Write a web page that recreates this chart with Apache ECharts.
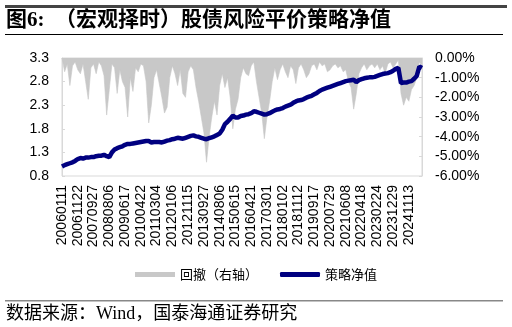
<!DOCTYPE html>
<html><head><meta charset="utf-8">
<script src="https://cdn.jsdelivr.net/npm/echarts@6/dist/echarts.min.js"></script>
<style>html,body{margin:0;padding:0;background:#fff}#c{width:512px;height:327px}</style>
</head><body><div id="c"></div>
<script>
// Tick label dates (every 6th category)
var tickDates = ['20060111','20061122','20070927','20080806','20090617','20100422','20110304','20120106','20121115','20130927','20140806','20150615','20160421','20170301','20180102','20181112','20190917','20200729','20210608','20220418','20230224','20231229','20241113'];
// Strategy net value (left axis)
var netValue = [1.00,1.03,1.05,1.07,1.09,1.12,1.16,1.18,1.17,1.19,1.19,1.20,1.20,1.22,1.23,1.23,1.25,1.22,1.20,1.30,
1.36,1.39,1.41,1.43,1.46,1.48,1.48,1.49,1.50,1.51,1.52,1.53,1.54,1.54,1.51,1.52,1.52,1.52,1.51,1.53,
1.55,1.56,1.58,1.59,1.61,1.60,1.59,1.61,1.63,1.65,1.66,1.64,1.63,1.61,1.59,1.58,1.60,1.62,1.64,1.67,
1.70,1.78,1.90,1.95,2.01,2.08,2.04,2.04,2.07,2.08,2.10,2.11,2.13,2.17,2.16,2.14,2.12,2.10,2.11,2.13,
2.16,2.19,2.21,2.22,2.24,2.27,2.29,2.31,2.35,2.38,2.40,2.41,2.43,2.46,2.48,2.50,2.53,2.56,2.60,2.63,
2.65,2.67,2.69,2.71,2.73,2.75,2.77,2.79,2.81,2.82,2.83,2.84,2.79,2.83,2.85,2.87,2.88,2.89,2.89,2.90,
2.92,2.94,2.96,2.97,2.98,3.00,3.03,3.07,3.09,2.77,2.78,2.78,2.80,2.81,2.86,2.92,3.12,3.09];
// Drawdown in % (right axis)
var drawdown = [0,-0.7,-0.3,-1.4,-0.4,-0.2,-0.6,-0.8,-0.3,-1.2,-2.1,-0.5,-0.3,-0.8,-0.2,-0.4,-0.9,-2.9,-1.6,-0.3,
-0.5,-1.8,-0.6,-1.2,-1.5,-3.0,-1.0,-1.7,-0.5,-0.7,-0.3,-0.4,-1.2,-3.3,-2.4,-1.0,-0.6,-1.3,-2.0,-2.8,
-2.5,-1.0,-0.4,-0.8,-1.4,-0.6,-1.8,-2.0,-0.7,-0.4,-0.6,-1.5,-2.2,-3.0,-3.8,-5.3,-4.0,-3.0,-2.2,-2.9,
-1.4,-0.8,-1.5,-1.0,-2.0,-3.6,-2.6,-2.1,-1.0,-0.5,-0.8,-0.9,-0.4,-0.2,-1.2,-2.0,-2.8,-4.1,-3.0,-2.2,
-1.2,-0.5,-1.1,-0.6,-0.3,-0.7,-1.0,-0.4,-0.6,-1.3,-0.5,-0.3,-0.6,-1.0,-0.8,-0.4,-0.3,-0.6,-0.2,-0.4,
-0.3,-0.7,-0.6,-0.4,-0.3,-0.5,-0.4,-0.7,-0.6,-1.2,-1.5,-2.6,-1.8,-0.8,-0.5,-0.3,-0.6,-0.4,-0.3,-0.5,
-0.3,-0.6,-0.4,-0.8,-0.3,-0.2,-0.5,-0.3,-0.1,-1.8,-2.4,-2.0,-2.2,-1.6,-1.4,-1.0,-0.2,-0.4];
var seriesNames = ['回撤（右轴）','策略净值'];

// Build category dates: tick dates with intermediate dates between them
function toD(s){return new Date(+s.slice(0,4), +s.slice(4,6)-1, +s.slice(6,8));}
function fmt(d){var m=d.getMonth()+1, dd=d.getDate();return ''+d.getFullYear()+(m<10?'0':'')+m+(dd<10?'0':'')+dd;}
var step = 6, categories = [];
for (var k=0;k<tickDates.length;k++){
  categories.push(tickDates[k]);
  var a = toD(tickDates[k]);
  var b = k<tickDates.length-1 ? toD(tickDates[k+1]) : new Date(a.getTime() + (a - toD(tickDates[k-1])));
  var nExtra = k<tickDates.length-1 ? step-1 : netValue.length - categories.length;
  for (var j=1;j<=nExtra;j++) categories.push(fmt(new Date(a.getTime() + (b-a)*j/step)));
}

var chart = echarts.init(document.getElementById('c'), null, {renderer:'canvas'});
var cn = "'Liberation Serif','Noto Sans CJK SC',serif";
chart.setOption({
  animation:false,
  grid:{left:62,right:90,top:58,bottom:151,show:true,borderColor:'#d9d9d9',borderWidth:1},
  legend:{
    bottom:41,left:'center',itemGap:22,itemWidth:40,itemHeight:5,
    textStyle:{fontFamily:"'Noto Sans CJK SC'",fontSize:13,color:'#000'},
    data:[{name:seriesNames[0],icon:'rect'},{name:seriesNames[1],icon:'roundRect'}]
  },
  xAxis:{type:'category',data:categories,boundaryGap:false,
    axisLine:{lineStyle:{color:'#d9d9d9'}},axisTick:{show:false},
    axisLabel:{interval:step-1,rotate:90,fontFamily:'Liberation Sans',fontSize:14,color:'#000',margin:9}},
  yAxis:[
    {type:'value',min:0.8,max:3.3,interval:0.5,position:'left',splitLine:{show:false},
     axisLine:{show:true,lineStyle:{color:'#d9d9d9'}},axisTick:{show:true,inside:true,length:3,lineStyle:{color:'#d9d9d9'}},
     axisLabel:{fontFamily:'Liberation Sans',fontSize:14,color:'#000',margin:13,formatter:function(v){return v.toFixed(1);}}},
    {type:'value',min:-6,max:0,interval:1,position:'right',splitLine:{show:false},
     axisLine:{show:true,lineStyle:{color:'#d9d9d9'}},axisTick:{show:true,inside:true,length:3,lineStyle:{color:'#d9d9d9'}},
     axisLabel:{fontFamily:'Liberation Sans',fontSize:14,color:'#000',margin:13,formatter:function(v){return v.toFixed(2)+'%';}}}
  ],
  series:[
    {name:seriesNames[0],type:'line',yAxisIndex:1,data:drawdown,showSymbol:false,
     lineStyle:{width:0.6,color:'#c8c8c8'},itemStyle:{color:'#c8c8c8'},areaStyle:{color:'#c8c8c8',opacity:1}},
    {name:seriesNames[1],type:'line',yAxisIndex:0,data:netValue,showSymbol:false,
     lineStyle:{width:4.5,color:'#000080'},itemStyle:{color:'#000080'},z:3}
  ],
  graphic:[
    {type:'rect',shape:{x:5,y:5,width:502,height:3},style:{fill:'#444'}},
    {type:'text',left:6,top:10,style:{text:'图6:',font:"bold 21px "+cn,fill:'#000'}},
    {type:'text',left:55,top:10,style:{text:'（宏观择时）股债风险平价策略净值',font:"bold 21px "+cn,fill:'#000'}},
    {type:'rect',shape:{x:5,y:34,width:498,height:1},style:{fill:'#000'}},
    {type:'rect',shape:{x:5,y:300,width:498,height:1.5},style:{fill:'#888'}},
    {type:'text',left:6,top:305,style:{text:'数据来源：Wind，国泰海通证券研究',font:"18px "+cn,fill:'#000'}}
  ]
});
</script></body></html>
